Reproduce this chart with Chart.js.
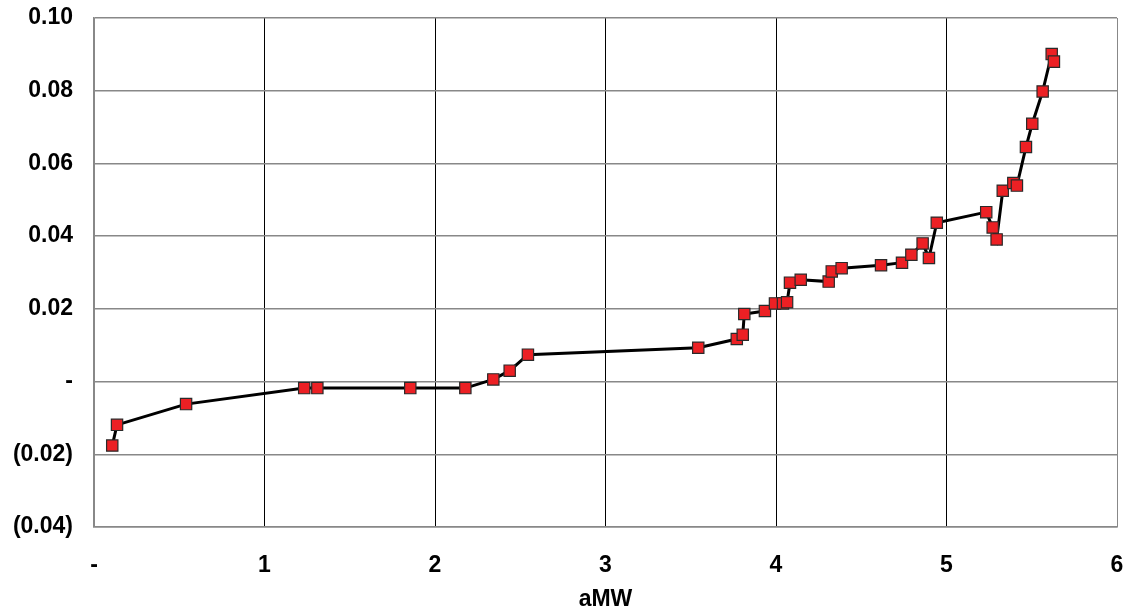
<!DOCTYPE html>
<html>
<head>
<meta charset="utf-8">
<script src="https://cdn.jsdelivr.net/npm/chart.js@4/dist/chart.umd.min.js"></script>
<style>
html,body{margin:0;padding:0;background:#fff;}
#wrap{width:1133px;height:614px;position:relative;}
</style>
</head>
<body>
<div id="wrap"><canvas id="c" width="1133" height="614"></canvas></div>
<script>
const xValues = [0.107,0.135,0.540,1.233,1.310,1.855,2.178,2.342,2.438,2.545,3.544,3.770,3.805,3.814,3.935,3.994,4.041,4.065,4.082,4.145,4.309,4.327,4.385,4.616,4.739,4.794,4.860,4.897,4.943,5.233,5.271,5.294,5.330,5.392,5.413,5.466,5.503,5.564,5.617,5.630];
const yValues = [-0.0176,-0.0119,-0.0062,-0.0018,-0.0018,-0.0018,-0.0018,0.0006,0.0030,0.0074,0.0093,0.0117,0.0129,0.0186,0.0194,0.0215,0.0215,0.0218,0.0272,0.0280,0.0275,0.0303,0.0312,0.0320,0.0327,0.0349,0.0380,0.0340,0.0437,0.0466,0.0424,0.0391,0.0525,0.0546,0.0539,0.0645,0.0709,0.0798,0.0901,0.0880];
const xTicks = [0,1,2,3,4,5,6];
const yTicks = [-0.04,-0.02,0,0.02,0.04,0.06,0.08,0.10];
const xTitle = 'aMW';

const pts = xValues.map((x,i)=>({x:x,y:yValues[i]}));
const font = {family:'"Liberation Sans", Arial, sans-serif', size:23, weight:'bold'};

new Chart(document.getElementById('c'), {
  type:'scatter',
  data:{datasets:[{
    data:pts,
    showLine:true,
    borderColor:'#000',
    borderWidth:3,
    tension:0,
    pointStyle:'rect',
    pointRadius:8,
    pointHoverRadius:8,
    pointBackgroundColor:'#ec2024',
    pointBorderColor:'#2a2a2a',
    pointBorderWidth:1.2
  }]},
  options:{
    responsive:false,
    animation:false,
    layout:{padding:0},
    plugins:{legend:{display:false},tooltip:{enabled:false}},
    scales:{
      x:{
        type:'linear',
        min:xTicks[0], max:xTicks[xTicks.length-1],
        afterBuildTicks:(s)=>{s.ticks = xTicks.map(v=>({value:v}));},
        afterFit:(s)=>{s.height = 87; s.paddingLeft = 0; s.paddingRight = 16;},
        grid:{
          drawTicks:false,
          color:(ctx)=> (ctx.index===0 || ctx.index===xTicks.length-1) ? '#888' : '#000',
          lineWidth:1
        },
        border:{color:'#888',width:1.5},
        ticks:{
          font:font, color:'#000', padding:25, maxRotation:0,
          callback:(v)=> Math.abs(v)<1e-9 ? '-' : String(Math.round(v))
        },
        title:{display:true,text:xTitle,font:font,color:'#000',padding:{top:1,bottom:1}}
      },
      y:{
        type:'linear',
        min:yTicks[0], max:yTicks[yTicks.length-1],
        afterBuildTicks:(s)=>{s.ticks = yTicks.map(v=>({value:v}));},
        afterFit:(s)=>{s.width = 94; s.paddingTop = 18; s.paddingBottom = 0;},
        grid:{drawTicks:false,color:'#888',lineWidth:1.5},
        border:{color:'#888',width:1.5},
        ticks:{
          font:font, color:'#000', padding:21,
          callback:(v)=>{
            if (Math.abs(v)<1e-9) return '-';
            if (v<0) return '(' + Math.abs(v).toFixed(2) + ')';
            return v.toFixed(2);
          }
        }
      }
    }
  }
});
</script>
</body>
</html>
